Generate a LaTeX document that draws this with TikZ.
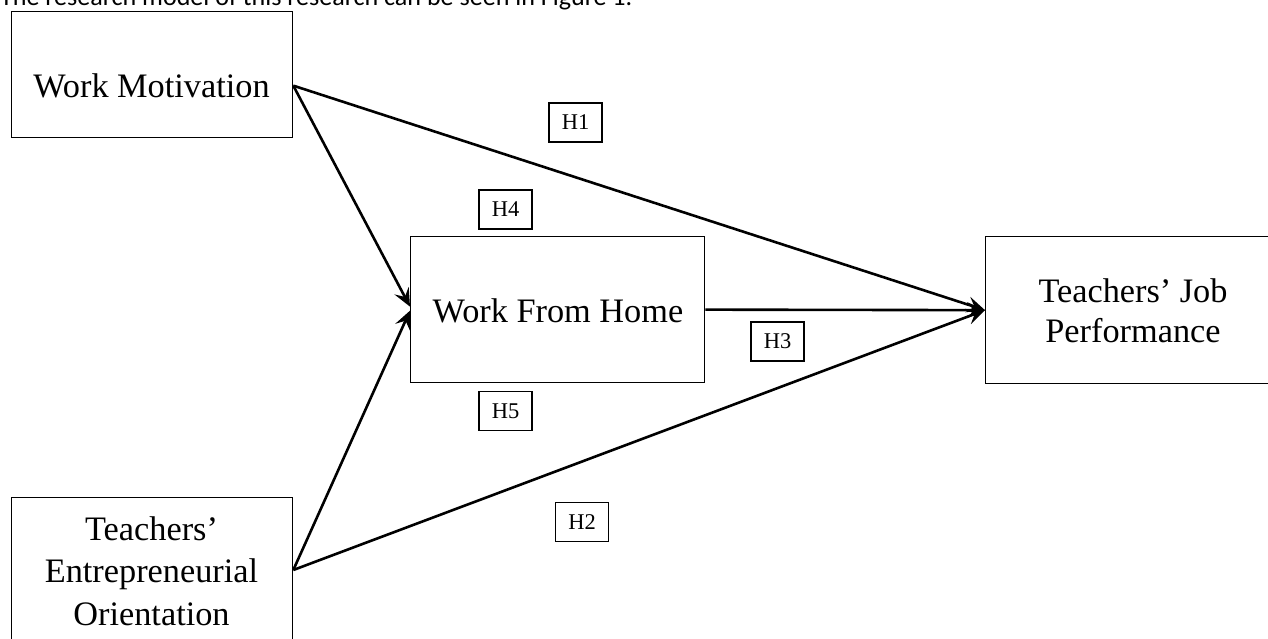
\documentclass[tikz,border=0pt]{standalone}
\usepackage{fontspec}
\setmainfont{Liberation Serif}
\newfontfamily\bodyfont{Carlito}
\usetikzlibrary{arrows.meta}
\begin{document}
\begin{tikzpicture}[x=1pt,y=-1pt,
  varbox/.style={draw=black, line width=1.3pt, inner sep=0pt, anchor=north west},
  varlabel/.style={font=\fontsize{34.3}{41}\selectfont, align=center, anchor=base, inner sep=0pt},
  hypbox/.style={draw=black, line width=1.1pt, inner sep=0pt, minimum width=53pt, minimum height=39pt,
    font=\fontsize{22.5}{24}\selectfont},
  link/.style={line width=2.6pt, -{Stealth[length=18pt, width=16pt, inset=7pt]}}]
  \clip (0,0) rectangle (1268,639);

  % running text above the figure
  \node[anchor=base west, inner sep=0pt] (intro) at (0,6)
    {\resizebox{632pt}{!}{\bodyfont The research model of this research can be seen in Figure 1.}};

  % construct boxes
  \node[varbox, minimum width=281pt, minimum height=126pt] (wm)  at (11,11)  {};
  \node[varbox, minimum width=294pt, minimum height=146pt] (wfh) at (410,236) {};
  \node[varbox, minimum width=296pt, minimum height=147pt] (tjp) at (985,236) {};
  \node[varbox, minimum width=281pt, minimum height=170pt] (teo) at (11,497) {};

  % construct names (anchored at the baseline of the last line)
  \node[varlabel] (wmtext)  at (151.5,98)  {Work Motivation};
  \node[varlabel] (wfhtext) at (558,322)   {Work From Home};
  \node[varlabel, font=\fontsize{34.3}{40}\selectfont] (tjptext) at (1133,342) {Teachers’ Job\\Performance};
  \node[varlabel, font=\fontsize{34.3}{42.5}\selectfont] (teotext) at (151.5,625) {Teachers’\\Entrepreneurial\\Orientation};

  % hypothesis tags
  \node[hypbox] (h1) at (575.5,122.5) {H1};
  \node[hypbox] (h4) at (505.5,209.5) {H4};
  \node[hypbox] (h3) at (777.5,341.5) {H3};
  \node[hypbox] (h5) at (505.5,411)   {H5};
  \node[hypbox] (h2) at (582,522)     {H2};

  % paths
  \coordinate (wmout)  at ([yshift=-11pt]wm.east);
  \coordinate (teoout) at ([yshift=-73pt]teo.north east);
  \draw[link] (wmout) -- ([yshift=3pt]wfh.west);
  \draw[link] (wmout) -- (tjp.west);
  \draw[link] (teoout) -- ([yshift=-1pt]wfh.west);
  \draw[link] (teoout) -- (tjp.west);
  \draw[link] (wfh.east) -- (tjp.west);
\end{tikzpicture}
\end{document}
